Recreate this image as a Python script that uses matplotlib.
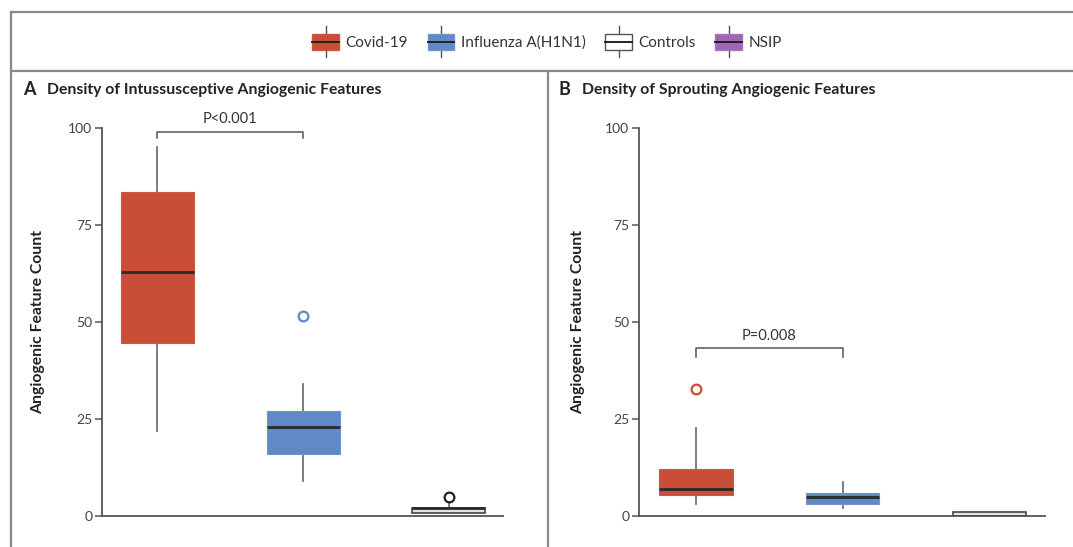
import matplotlib
matplotlib.use("Agg")
import matplotlib.pyplot as plt
from matplotlib.patches import Patch, Rectangle
from matplotlib.lines import Line2D
from matplotlib.legend_handler import HandlerBase

plt.rcParams['font.family'] = ['Lato', 'DejaVu Sans']

groups = ['Covid-19', 'Influenza A(H1N1)', 'Controls']
legend_labels = ['Covid-19', 'Influenza A(H1N1)', 'Controls', 'NSIP']
fills = ['#C84E38', '#6189C6', '#E4E4E4', '#A066B4']
edges = ['#C85A45', '#6F95CC', '#444444', '#A873BC']
flier_colors = ['#C84E38', '#6189C6', '#222222']
yticks = [0, 25, 50, 75, 100]

# A: intussusceptive angiogenic features
a_whislo = [22, 9, 0.7]
a_q1 = [44.5, 16, 0.7]
a_med = [63, 23, 2]
a_q3 = [83.5, 27, 2]
a_whishi = [95, 34, 3.5]
a_fliers = [[], [51.5], [4.8]]
a_p = 'P<0.001'

# B: sprouting angiogenic features
b_whislo = [3, 2, 0]
b_q1 = [5.5, 3, 0]
b_med = [7, 5, 0]
b_q3 = [12.2, 5.8, 1]
b_whishi = [22.8, 8.7, 1]
b_fliers = [[32.7], [], []]
b_p = 'P=0.008'


class BoxHandler(HandlerBase):
    def create_artists(self, legend, orig_handle, xdescent, ydescent,
                       width, height, fontsize, trans):
        x0, y0 = -xdescent, -ydescent
        cx = x0 + width / 2
        whisk = Line2D([cx, cx], [y0 - 0.5 * height, y0 + 1.5 * height],
                       color='#555555', lw=1.0, transform=trans)
        box = Rectangle((x0, y0), width, height, facecolor=orig_handle.get_facecolor(),
                        edgecolor=orig_handle.get_edgecolor(), lw=1.0, transform=trans)
        med = Line2D([x0, x0 + width], [y0 + height / 2] * 2, color='#222222',
                     lw=1.4, transform=trans)
        return [whisk, box, med]


def panel(ax, whislo, q1, med, q3, whishi, fliers, ptext, bracket_y, xlim):
    stats = []
    for i in range(len(groups)):
        stats.append(dict(label=groups[i], whislo=whislo[i], q1=q1[i], med=med[i],
                          q3=q3[i], whishi=whishi[i], fliers=fliers[i]))
    bp = ax.bxp(stats, positions=[1, 2, 3], widths=0.5, patch_artist=True,
                showcaps=False,
                whiskerprops=dict(color='#666666', lw=1.2),
                medianprops=dict(color='#2a2a2a', lw=2),
                flierprops=dict(marker='o', markersize=7, markerfacecolor='none',
                                markeredgewidth=1.6))
    for i, b in enumerate(bp['boxes']):
        b.set_facecolor(fills[i])
        b.set_edgecolor(edges[i])
        b.set_linewidth(1.2 if i == 2 else 0.8)
    for i, f in enumerate(bp['fliers']):
        f.set_markeredgecolor(flier_colors[i])
        f.set_clip_on(False)
    for w in bp['whiskers']:
        w.set_zorder(1)

    ax.set_ylim(0, 100)
    ax.set_xlim(*xlim)
    ax.set_yticks(yticks)
    ax.set_xticks([])
    for s in ['top', 'right']:
        ax.spines[s].set_visible(False)
    for s in ['left', 'bottom']:
        ax.spines[s].set_color('#555555')
        ax.spines[s].set_linewidth(1.3)
    ax.tick_params(axis='y', length=5, width=1.1, color='#555555',
                   labelsize=10, labelcolor='#444444', pad=2)
    ax.set_ylabel('Angiogenic Feature Count', fontsize=11.3, fontweight='bold',
                  color='#222222')

    ytop, ytick = bracket_y
    ax.plot([1, 1, 2, 2], [ytick, ytop, ytop, ytick], color='#555555', lw=1.1,
            clip_on=False)
    ax.text(1.5, ytop + 3.2, ptext, ha='center', va='center', fontsize=10.5,
            color='#333333')


fig = plt.figure(figsize=(10.73, 5.47), dpi=100)
W, H = 1073, 547

axA = fig.add_axes([102 / W, (H - 516) / H, 401 / W, 388 / H])
panel(axA, a_whislo, a_q1, a_med, a_q3, a_whishi, a_fliers, a_p, (99, 97.3), (0.623, 3.37))
axA.yaxis.set_label_coords(-0.142, 0.5)

axB = fig.add_axes([639 / W, (H - 516) / H, 406 / W, 388 / H])
panel(axB, b_whislo, b_q1, b_med, b_q3, b_whishi, b_fliers, b_p, (43.2, 41), (0.611, 3.38))
axB.yaxis.set_label_coords(-0.133, 0.5)

# frame lines
frame = dict(color='#888888', lw=1.6)
fig.add_artist(Line2D([11 / W, 1], [1 - 12 / H] * 2, **frame))
fig.add_artist(Line2D([11 / W] * 2, [0, 1 - 12 / H], **frame))
fig.add_artist(Line2D([11 / W, 1], [1 - 71 / H] * 2, **frame))
fig.add_artist(Line2D([548 / W] * 2, [0, 1 - 71 / H], **frame))

# panel titles
fig.text(23 / W, 1 - 90 / H, 'A', fontsize=13, fontweight='bold', va='center', color='#222222')
fig.text(47 / W, 1 - 90 / H, 'Density of Intussusceptive Angiogenic Features', fontsize=11.3,
         fontweight='bold', va='center', color='#222222')
fig.text(558 / W, 1 - 90 / H, 'B', fontsize=13, fontweight='bold', va='center', color='#222222')
fig.text(582 / W, 1 - 90 / H, 'Density of Sprouting Angiogenic Features', fontsize=11.3,
         fontweight='bold', va='center', color='#222222')

handles = [Patch(facecolor=fills[i], edgecolor=edges[i]) for i in range(4)]
handles[2] = Patch(facecolor='white', edgecolor='#555555')
fig.legend(handles, legend_labels, loc='center', bbox_to_anchor=(547 / W, 1 - 42 / H),
           ncol=4, frameon=False, fontsize=11, handlelength=1.75, handleheight=1.2,
           handletextpad=0.4, columnspacing=1.3, labelcolor='#333333',
           handler_map={Patch: BoxHandler()})

fig.savefig('out.png', dpi=100)
